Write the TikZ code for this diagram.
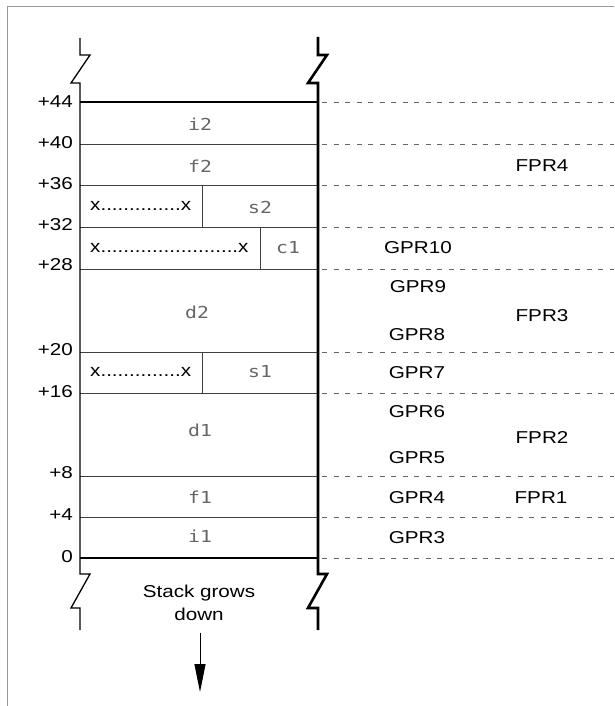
\documentclass[tikz,border=0pt]{standalone}
\usepackage{fontspec}
\setmainfont{Liberation Sans}[FakeStretch=1.2]
\newfontfamily\cellmono{DejaVu Sans Mono}[FakeStretch=1.2]
\usetikzlibrary{arrows.meta}
\begin{document}
\begin{tikzpicture}[x=1pt,y=-1pt,
  every node/.style={inner sep=0pt, font=\fontsize{17.2}{23}\selectfont},
  lvl/.style={anchor=east},
  cell/.style={font=\cellmono\fontsize{16.5}{20}\selectfont, text=black!60},
  fill/.style={anchor=west},
  frameline/.style={draw=black!40, line width=0.8pt},
  wall/.style={line width=1.3pt, line join=miter},
  thickwall/.style={line width=2.6pt, line join=miter},
  edgeline/.style={line width=1.6pt},
  sepline/.style={draw=black!75, line width=0.9pt},
  dashline/.style={draw=black!60, line width=0.8pt, dash pattern=on 5pt off 6.5pt},
  growarrow/.style={line width=0.9pt, -{Triangle[length=28pt, width=11pt]}},
]
\useasboundingbox (0,0) rectangle (614,706);
\draw[frameline] (614,6) -- (7,6) -- (7,706);

% level coordinates
\foreach \n/\y in {44/102,40/144,36/185,32/227,28/269,20/352,16/393,8/476,4/517,0/558}{
  \coordinate (L\n) at (80,\y);
  \coordinate (R\n) at (318,\y);
  \coordinate (D\n) at (614,\y);
}

% separators
\foreach \n in {40,36,32,28,20,16,8,4}{
  \draw[sepline] (L\n) -- (R\n);
}
\draw[edgeline] (L44) -- (R44);
\draw[edgeline] (L0) -- (R0);

% dashed extensions
\foreach \n in {44,40,36,32,28,20,16,8,4,0}{
  \draw[dashline] ([xshift=4pt]R\n) -- (D\n);
}

% vertical dividers
\draw[sepline] (202,185) -- (202,227);
\draw[sepline] (260,227) -- (260,269);
\draw[sepline] (202,352) -- (202,393);

% walls with break marks
\draw[wall] (80,38) -- (80,55) -- (90,55) -- (71,83) -- (80,83) -- (80,574)
  -- (90,574) -- (71,608) -- (80,608) -- (80,630);
\draw[thickwall] (318,37) -- (318,55) -- (327,55) -- (308,83) -- (318,83) -- (318,574)
  -- (327,574) -- (308,608) -- (318,608) -- (318,630);

% level labels
\node[lvl] (t44) at (73,102) {+44};
\node[lvl] (t40) at (73,143) {+40};
\node[lvl] (t36) at (73,184) {+36};
\node[lvl] (t32) at (73,225) {+32};
\node[lvl] (t28) at (73,265) {+28};
\node[lvl] (t20) at (73,350) {+20};
\node[lvl] (t16) at (73,392) {+16};
\node[lvl] (t8) at (73,473) {+8};
\node[lvl] (t4) at (73,515) {+4};
\node[lvl] (t0) at (73,557) {0};

% cell contents
\node[cell] (i2) at (200,124) {i2};
\node[cell] (f2) at (200,166) {f2};
\node[fill] (x2) at (90,206) {x..............x};
\node[cell] (s2) at (260,207) {s2};
\node[fill] (xc) at (90,248) {x........................x};
\node[cell] (c1) at (288,248) {c1};
\node[cell] (d2) at (197,312) {d2};
\node[fill] (x1) at (90,372) {x..............x};
\node[cell] (s1) at (260,372) {s1};
\node[cell] (d1) at (200,430) {d1};
\node[cell] (f1) at (200,497) {f1};
\node[cell] (i1) at (200,536) {i1};

% registers
\node (fpr4) at (542,166) {FPR4};
\node (gpr10) at (418,248) {GPR10};
\node (gpr9) at (418,287) {GPR9};
\node (fpr3) at (542,316) {FPR3};
\node (gpr8) at (417,335) {GPR8};
\node (gpr7) at (417,373) {GPR7};
\node (gpr6) at (417,412) {GPR6};
\node (fpr2) at (542,437) {FPR2};
\node (gpr5) at (417,458) {GPR5};
\node (gpr4) at (417,498) {GPR4};
\node (fpr1) at (541,498) {FPR1};
\node (gpr3) at (417,538) {GPR3};

% growth note
\node[align=center] (grow) at (199,603) {Stack grows\\down};
\coordinate (tip) at (200,692);
\draw[growarrow] ([yshift=-12pt]grow.south -| tip) -- (tip);
\end{tikzpicture}
\end{document}
